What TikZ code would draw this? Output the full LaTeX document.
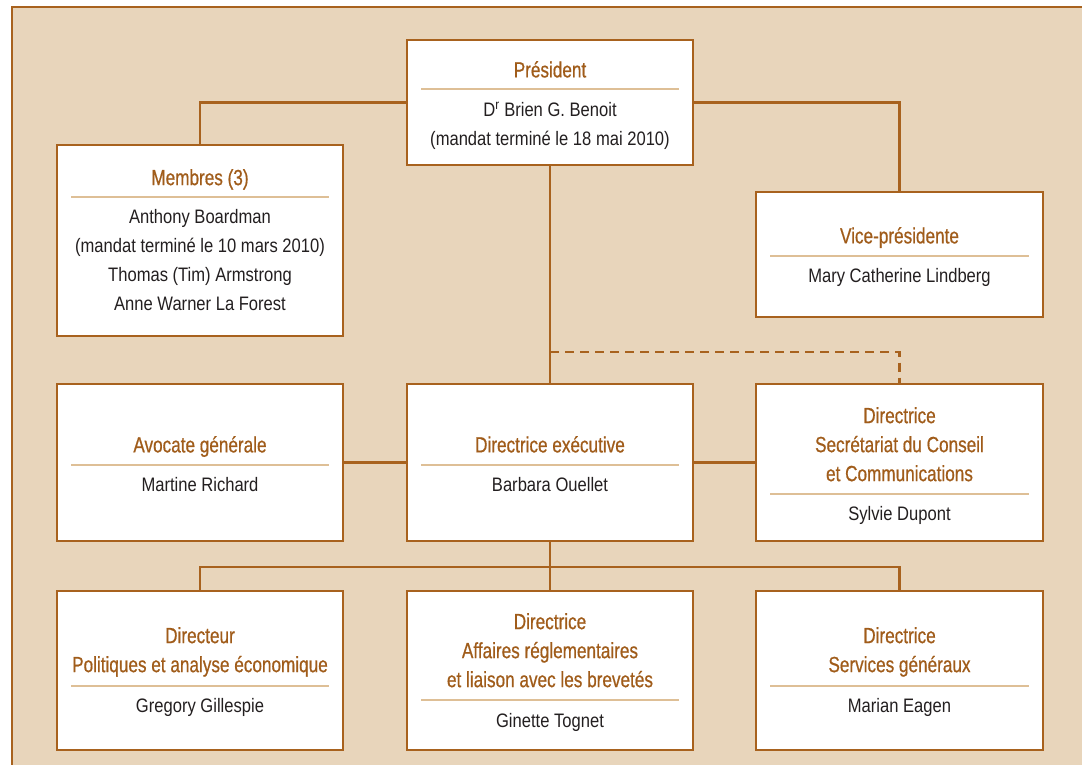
\documentclass[tikz,border=0pt]{standalone}
\usepackage{fontspec}
\setmainfont{Liberation Sans}[FakeStretch=0.85]
\newfontfamily\headfont{Liberation Sans}[FakeStretch=0.78, FakeBold=0.6]
\usepackage{xcolor}
\usepackage{tikz}
\usetikzlibrary{positioning}
\definecolor{cpanel}{RGB}{232,213,187}
\definecolor{cbrown}{RGB}{168,98,30}
\definecolor{ctitle}{RGB}{160,92,26}
\definecolor{csep}{RGB}{222,191,150}
\definecolor{cname}{RGB}{35,31,32}

\begin{document}
\begin{tikzpicture}[
    x=1pt, y=-1pt,
    orgbox/.style={draw=cbrown, line width=1.5pt, fill=white, inner sep=0pt},
    boxtitle/.style={anchor=north, inner sep=0pt, align=center, text=ctitle,
        font=\headfont\fontsize{22}{29}\selectfont},
    boxnames/.style={anchor=north, inner sep=0pt, align=center, text=cname,
        font=\fontsize{19.5}{29}\selectfont},
    sepline/.style={csep, line width=1.2pt},
    link/.style={cbrown, line width=2.6pt},
]
    \useasboundingbox (0,0) rectangle (1082,765);
    \clip (0,0) rectangle (1082,765);

    % Panel
    \fill[cpanel] (12,7) rectangle (1090,770);
    \draw[cbrown, line width=2pt] (12,770) -- (12,7) -- (1090,7);

    % Boxes
    \node[orgbox, minimum width=286pt, minimum height=125pt] (pres) at (550,102.5) {};
    \node[orgbox, minimum width=286pt, minimum height=191pt] (memb) at (200,240.5) {};
    \node[orgbox, minimum width=287pt, minimum height=125pt] (vp) at (899.5,254.5) {};
    \node[orgbox, minimum width=286pt, minimum height=157pt] (avoc) at (200,462.5) {};
    \node[orgbox, minimum width=286pt, minimum height=157pt] (exec) at (550,462.5) {};
    \node[orgbox, minimum width=287pt, minimum height=157pt] (secr) at (899.5,462.5) {};
    \node[orgbox, minimum width=286pt, minimum height=159pt] (dir1) at (200,670.5) {};
    \node[orgbox, minimum width=286pt, minimum height=159pt] (dir2) at (550,670.5) {};
    \node[orgbox, minimum width=287pt, minimum height=159pt] (dir3) at (899.5,670.5) {};

    % Connectors
    \coordinate (dash) at (550,352);
    \coordinate (split) at (550,567);
    \draw[link] (pres.west) -| (memb.north);
    \draw[link] (pres.east) -| (vp.north);
    \draw[link] (pres.south) -- (exec.north);
    \draw[link, dash pattern=on 9pt off 6pt] (dash) -| (secr.north);
    \draw[link] (exec.west) -- (avoc.east);
    \draw[link] (exec.east) -- (secr.west);
    \draw[link] (exec.south) -- (split);
    \draw[link] (split) -| (dir1.north);
    \draw[link] (split) -| (dir3.north);
    \draw[link] (split) -- (dir2.north);

    % Président
    \node[boxtitle] (pres-t) at (550,61) {Président};
    \draw[sepline] (421,89) -- (679,89);
    \node[boxnames] (pres-n) at (550,101.9)
        {D\textsuperscript{r} Brien G. Benoit\\(mandat terminé le 18 mai 2010)};

    % Membres
    \node[boxtitle] (memb-t) at (200,169) {Membres (3)};
    \draw[sepline] (71,197) -- (329,197);
    \node[boxnames] (memb-n) at (200,208.9)
        {Anthony Boardman\\(mandat terminé le 10 mars 2010)\\Thomas (Tim) Armstrong\\Anne Warner La Forest};

    % Vice-présidente
    \node[boxtitle] (vp-t) at (899.5,227) {Vice-présidente};
    \draw[sepline] (770,256) -- (1029,256);
    \node[boxnames] (vp-n) at (899.5,267.9) {Mary Catherine Lindberg};

    % Avocate générale
    \node[boxtitle] (avoc-t) at (200,436) {Avocate générale};
    \draw[sepline] (71,465) -- (329,465);
    \node[boxnames] (avoc-n) at (200,476.9) {Martine Richard};

    % Directrice exécutive
    \node[boxtitle] (exec-t) at (550,436) {Directrice exécutive};
    \draw[sepline] (421,465) -- (679,465);
    \node[boxnames] (exec-n) at (550,476.9) {Barbara Ouellet};

    % Secrétariat
    \node[boxtitle] (secr-t) at (899.5,407)
        {Directrice\\Secrétariat du Conseil\\et Communications};
    \draw[sepline] (770,494) -- (1029,494);
    \node[boxnames] (secr-n) at (899.5,505.9) {Sylvie Dupont};

    % Bottom row
    \node[boxtitle] (dir1-t) at (200,627)
        {Directeur\\Politiques et analyse économique};
    \draw[sepline] (71,686) -- (329,686);
    \node[boxnames] (dir1-n) at (200,697.9) {Gregory Gillespie};

    \node[boxtitle] (dir2-t) at (550,613)
        {Directrice\\Affaires réglementaires\\et liaison avec les brevetés};
    \draw[sepline] (421,700) -- (679,700);
    \node[boxnames] (dir2-n) at (550,712.9) {Ginette Tognet};

    \node[boxtitle] (dir3-t) at (899.5,627)
        {Directrice\\Services généraux};
    \draw[sepline] (770,686) -- (1029,686);
    \node[boxnames] (dir3-n) at (899.5,697.9) {Marian Eagen};
\end{tikzpicture}
\end{document}
